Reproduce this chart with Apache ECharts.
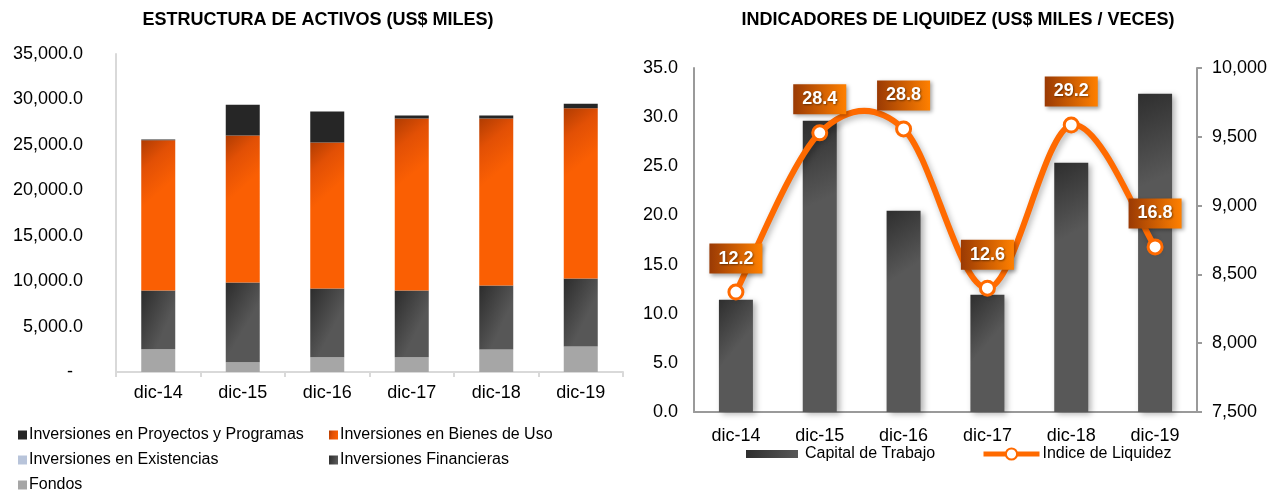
<!DOCTYPE html>
<html><head><meta charset="utf-8">
<script src="https://cdn.jsdelivr.net/npm/echarts@6/dist/echarts.min.js"></script>
<style>html,body{margin:0;padding:0;background:#fff}#c{width:1278px;height:491px}</style>
</head><body><div id="c"></div>
<script>
const categories = ['dic-14','dic-15','dic-16','dic-17','dic-18','dic-19'];
const proyectos = [80, 3400, 3410, 330, 330, 510];
const bienesUso = [16520, 16160, 16050, 18910, 18360, 18720];
const existencias = [0, 0, 0, 0, 0, 0];
const financieras = [6480, 8800, 7590, 7370, 7040, 7480];
const fondos = [2500, 1060, 1610, 1610, 2490, 2820];
const capitalTrabajo = [8316, 9617, 8963, 8353, 9312, 9813];
const indiceLiquidez = [12.2, 28.4, 28.8, 12.6, 29.2, 16.8];

const FONT = 'Liberation Sans, Arial, sans-serif';
const ORANGE = '#ff6a00';
const G = echarts.graphic.LinearGradient;
const orangeGrad = new G(0, 0, 1, 0.25, [{offset:0,color:'#b03c02'},{offset:0.45,color:'#e25005'},{offset:1,color:'#fa5f03'}]);
const darkGrad = new G(0, 0, 1, 0.25, [{offset:0,color:'#2c2c2c'},{offset:1,color:'#575757'}]);
const darkGrad2 = new G(0, 0, 1, 0.25, [{offset:0,color:'#2e2e2e'},{offset:1,color:'#585858'}]);
const labelGrad = new G(0, 0, 1, 0, [{offset:0,color:'#9a3a04'},{offset:1,color:'#ff8000'}]);

function fmtThousands(v, dec) {
  return v.toLocaleString('en-US', {minimumFractionDigits: dec, maximumFractionDigits: dec});
}
const legText = {fontFamily: FONT, fontSize: 16, color: '#000', padding: [0,0,0,-3]};
function sqLegend(name, left, top) {
  return {left: left, top: top, padding: 0, itemWidth: 9, itemHeight: 9, icon: 'rect', data: [name], textStyle: legText};
}

const chart = echarts.init(document.getElementById('c'));
chart.setOption({
  animation: false,
  textStyle: {fontFamily: FONT},
  title: [
    {text: 'ESTRUCTURA DE ACTIVOS (US$ MILES)', left: 313, top: 6, textAlign: 'center',
     textStyle: {fontFamily: FONT, fontSize: 18, fontWeight: 'bold', color: '#000'}},
    {text: 'INDICADORES DE LIQUIDEZ (US$ MILES / VECES)', left: 953, top: 6, textAlign: 'center',
     textStyle: {fontFamily: FONT, fontSize: 18, fontWeight: 'bold', color: '#000'}}
  ],
  legend: [
    sqLegend('Inversiones en Proyectos y Programas', 18, 427),
    sqLegend('Inversiones en Bienes de Uso', 329, 427),
    sqLegend('Inversiones en Existencias', 18, 452),
    sqLegend('Inversiones Financieras', 329, 452),
    sqLegend('Fondos', 18, 477),
    {left: 746, top: 446, padding: 0, itemWidth: 52, itemHeight: 8, icon: 'rect',
     data: ['Capital de Trabajo'],
     textStyle: {fontFamily: FONT, fontSize: 16, color: '#000', padding: [0,0,0,2]}},
    {left: 981, top: 446, padding: 0, itemWidth: 56, itemHeight: 14,
     lineStyle: {color: ORANGE, width: 5, opacity: 1},
     data: ['Indice de Liquidez'],
     textStyle: {fontFamily: FONT, fontSize: 16, color: '#000', padding: [0,0,0,-2]}}
  ],
  grid: [
    {left: 116, right: 655, top: 54, bottom: 119},
    {left: 694, right: 81, top: 68, bottom: 79}
  ],
  xAxis: [
    {type: 'category', gridIndex: 0, data: categories,
     axisLine: {lineStyle: {color: '#d9d9d9', width: 2}},
     axisTick: {show: true, length: 5, lineStyle: {color: '#d9d9d9', width: 2}},
     axisLabel: {fontFamily: FONT, fontSize: 18, color: '#000', margin: 12}},
    {type: 'category', gridIndex: 1, data: categories,
     axisLine: {lineStyle: {color: '#9a9a9a', width: 2}},
     axisTick: {show: false},
     axisLabel: {fontFamily: FONT, fontSize: 18, color: '#000', margin: 15}}
  ],
  yAxis: [
    {type: 'value', gridIndex: 0, min: 0, max: 35000, interval: 5000,
     axisLine: {show: true, lineStyle: {color: '#d9d9d9', width: 2}},
     axisTick: {show: false}, splitLine: {show: false},
     axisLabel: {fontFamily: FONT, fontSize: 18, color: '#000', margin: 33,
       formatter: v => v === 0 ? '-  ' : fmtThousands(v, 1)}},
    {type: 'value', gridIndex: 1, min: 0, max: 35, interval: 5,
     axisLine: {show: true, lineStyle: {color: '#9a9a9a', width: 2}},
     axisTick: {show: false}, splitLine: {show: false},
     axisLabel: {fontFamily: FONT, fontSize: 18, color: '#000', margin: 16,
       formatter: v => v.toFixed(1)}},
    {type: 'value', gridIndex: 1, position: 'right', min: 7500, max: 10000, interval: 500,
     axisLine: {show: true, lineStyle: {color: '#9a9a9a', width: 2}},
     axisTick: {show: true, length: 5, lineStyle: {color: '#9a9a9a', width: 2}},
     splitLine: {show: false},
     axisLabel: {fontFamily: FONT, fontSize: 18, color: '#000', margin: 15,
       formatter: v => fmtThousands(v, 0)}}
  ],
  series: [
    {name: 'Fondos', type: 'bar', stack: 'a', xAxisIndex: 0, yAxisIndex: 0, barWidth: 34,
     itemStyle: {color: '#a6a6a6'}, data: fondos},
    {name: 'Inversiones Financieras', type: 'bar', stack: 'a', xAxisIndex: 0, yAxisIndex: 0, barWidth: 34,
     itemStyle: {color: darkGrad}, data: financieras},
    {name: 'Inversiones en Existencias', type: 'bar', stack: 'a', xAxisIndex: 0, yAxisIndex: 0, barWidth: 34,
     itemStyle: {color: '#b8c4da'}, data: existencias},
    {name: 'Inversiones en Bienes de Uso', type: 'bar', stack: 'a', xAxisIndex: 0, yAxisIndex: 0, barWidth: 34,
     itemStyle: {color: orangeGrad}, data: bienesUso},
    {name: 'Inversiones en Proyectos y Programas', type: 'bar', stack: 'a', xAxisIndex: 0, yAxisIndex: 0, barWidth: 34,
     itemStyle: {color: '#262626'}, data: proyectos},
    {name: 'Capital de Trabajo', type: 'bar', xAxisIndex: 1, yAxisIndex: 2, barWidth: 34,
     itemStyle: {color: darkGrad2, shadowBlur: 6, shadowOffsetX: 3, shadowOffsetY: 2, shadowColor: 'rgba(0,0,0,0.3)'},
     data: capitalTrabajo},
    {name: 'curva', type: 'custom', xAxisIndex: 1, yAxisIndex: 1, z: 4, silent: true,
     data: indiceLiquidez.map((v, i) => [i, v]),
     renderItem: (params, api) => {
       const n = indiceLiquidez.length;
       const i = params.dataIndex;
       if (i >= n - 1) return null;
       const pt = k => { const c = Math.max(0, Math.min(n - 1, k)); return api.coord([c, indiceLiquidez[c]]); };
       const p0 = pt(i - 1), p1 = pt(i), p2 = pt(i + 1), p3 = pt(i + 2);
       const t = 1 / 6;
       return {type: 'bezierCurve',
         shape: {x1: p1[0], y1: p1[1], x2: p2[0], y2: p2[1],
           cpx1: p1[0] + (p2[0] - p0[0]) * t, cpy1: p1[1] + (p2[1] - p0[1]) * t,
           cpx2: p2[0] - (p3[0] - p1[0]) * t, cpy2: p2[1] - (p3[1] - p1[1]) * t},
         style: {fill: null, stroke: ORANGE, lineWidth: 6, lineCap: 'round',
           shadowBlur: 6, shadowOffsetX: 2, shadowOffsetY: 3, shadowColor: 'rgba(0,0,0,0.3)'}};
     }},
    {name: 'Indice de Liquidez', type: 'line', xAxisIndex: 1, yAxisIndex: 1,
     symbol: 'circle', symbolSize: 14,
     lineStyle: {color: ORANGE, width: 6, opacity: 0},
     itemStyle: {color: '#ffffff', borderColor: ORANGE, borderWidth: 3},
     label: {show: true, position: 'top', distance: 10,
       formatter: p => p.value.toFixed(1),
       fontFamily: FONT, fontSize: 18, fontWeight: 'bold', color: '#fff',
       backgroundColor: labelGrad, padding: [6, 9, 6, 9],
       textShadowColor: 'rgba(0,0,0,0.45)', textShadowBlur: 2, textShadowOffsetX: 1, textShadowOffsetY: 1,
       shadowColor: 'rgba(0,0,0,0.35)', shadowBlur: 4, shadowOffsetX: 2, shadowOffsetY: 2},
     data: indiceLiquidez, z: 5}
  ]
});
</script></body></html>
